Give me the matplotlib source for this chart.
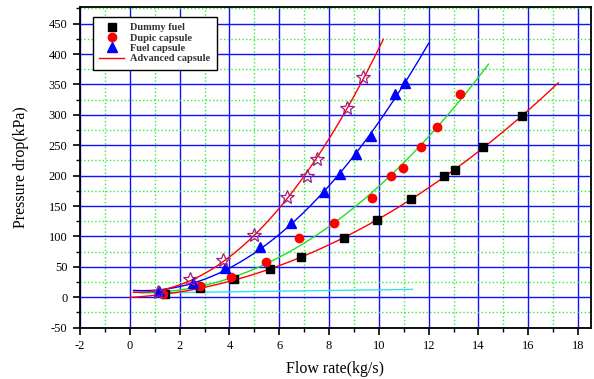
import numpy as np
import matplotlib
matplotlib.use("Agg")
import matplotlib.pyplot as plt
from matplotlib.ticker import MultipleLocator

plt.rcParams['font.family'] = ['Liberation Serif', 'DejaVu Serif']
plt.rcParams['axes.unicode_minus'] = False

dummy_x = [1.43, 2.83, 4.2, 5.64, 6.89, 8.58, 9.94, 11.3, 12.6, 13.07, 14.2, 15.76]
dummy_y = [5, 15, 30, 46, 66, 97, 127, 161, 200, 210, 247, 298]

dupic_x = [1.35, 2.83, 4.07, 5.48, 6.8, 8.2, 9.74, 10.5, 10.98, 11.7, 12.34, 13.24]
dupic_y = [5, 18, 33, 58, 97, 122, 164, 200, 212, 247, 280, 334]

fuel_x = [1.19, 2.55, 3.84, 5.24, 6.48, 7.81, 8.45, 9.1, 9.7, 10.66, 11.03]
fuel_y = [10, 23, 48, 82, 123, 173, 202, 235, 265, 335, 353]

adv_x = [1.15, 2.43, 3.75, 4.97, 6.33, 7.13, 7.52, 8.73, 9.37]
adv_y = [8, 30, 61, 103, 165, 200, 227, 312, 362]

# fitted curve ranges (x start, x end)
dummy_fit_range = [0.0, 17.2]
dupic_fit_range = [0.15, 14.4]
fuel_fit_range = [0.15, 12.0]
adv_fit_range = [0.15, 10.18]

# flat cyan reference line
cyan_x = [0.4, 11.35]
cyan_y = [7, 13]


def fit_curve(ax, xs, ys, xr, color, label=None):
    coef = np.polyfit(xs, ys, 2)
    xx = np.linspace(xr[0], xr[1], 200)
    line, = ax.plot(xx, np.polyval(coef, xx), '-', color=color, linewidth=1.0,
                    zorder=3, label=label)
    return line


fig = plt.figure(figsize=(5.94, 3.79), dpi=100)
ax = fig.add_axes([0.1347, 0.1354, 0.8595, 0.8454])

ax.set_xlim(-2, 18.5)
ax.set_ylim(-50, 477)

ax.xaxis.set_major_locator(MultipleLocator(2))
ax.xaxis.set_minor_locator(MultipleLocator(1))
ax.yaxis.set_major_locator(MultipleLocator(50))
ax.yaxis.set_minor_locator(MultipleLocator(25))

ax.grid(which='major', color='#1010ff', linestyle='-', linewidth=1.0, zorder=0)
ax.grid(which='minor', color='#33ee33', linestyle=':', linewidth=1.0, zorder=0)
ax.set_axisbelow(True)

ax.tick_params(which='major', direction='out', length=5, width=1.2, labelsize=9, pad=4)
ax.tick_params(which='minor', direction='out', length=3, width=1.0)
for s in ax.spines.values():
    s.set_linewidth(1.3)

ax.plot(cyan_x, cyan_y, '-', color='#33e0f0', linewidth=1.0, zorder=3)
fit_curve(ax, dummy_x, dummy_y, dummy_fit_range, '#ff0000')
fit_curve(ax, dupic_x, dupic_y, dupic_fit_range, '#22dd22')
fit_curve(ax, fuel_x, fuel_y, fuel_fit_range, '#0000ff')

ax.plot(dummy_x, dummy_y, 's', color='black', markersize=6, zorder=4, label='Dummy fuel')
ax.plot(dupic_x, dupic_y, 'o', color='red', markersize=6, zorder=4, label='Dupic capsule')
ax.plot(fuel_x, fuel_y, '^', color='blue', markersize=7, zorder=4, label='Fuel capsule')
fit_curve(ax, adv_x, adv_y, adv_fit_range, '#ff0000', label='Advanced capsule')
ax.plot(adv_x, adv_y, '*', markerfacecolor='none', markeredgecolor='#9a2080',
        markersize=10, markeredgewidth=0.9, zorder=4)

leg = ax.legend(loc='upper left', bbox_to_anchor=(0.025, 0.97),
                borderaxespad=0, frameon=True, fancybox=False,
                edgecolor='black', handlelength=2.4, labelspacing=0.1,
                borderpad=0.6, handletextpad=0.6,
                prop={'weight': 'bold', 'size': 7.5})
leg.get_frame().set_linewidth(1.0)
leg.get_frame().set_alpha(1)
for t in leg.get_texts():
    t.set_color('#333333')

ax.set_xlabel('Flow rate(kg/s)', fontsize=11.5, labelpad=6)
ax.set_ylabel('Pressure drop(kPa)', fontsize=11.5, labelpad=14)

fig.savefig('out.png', dpi=100)
